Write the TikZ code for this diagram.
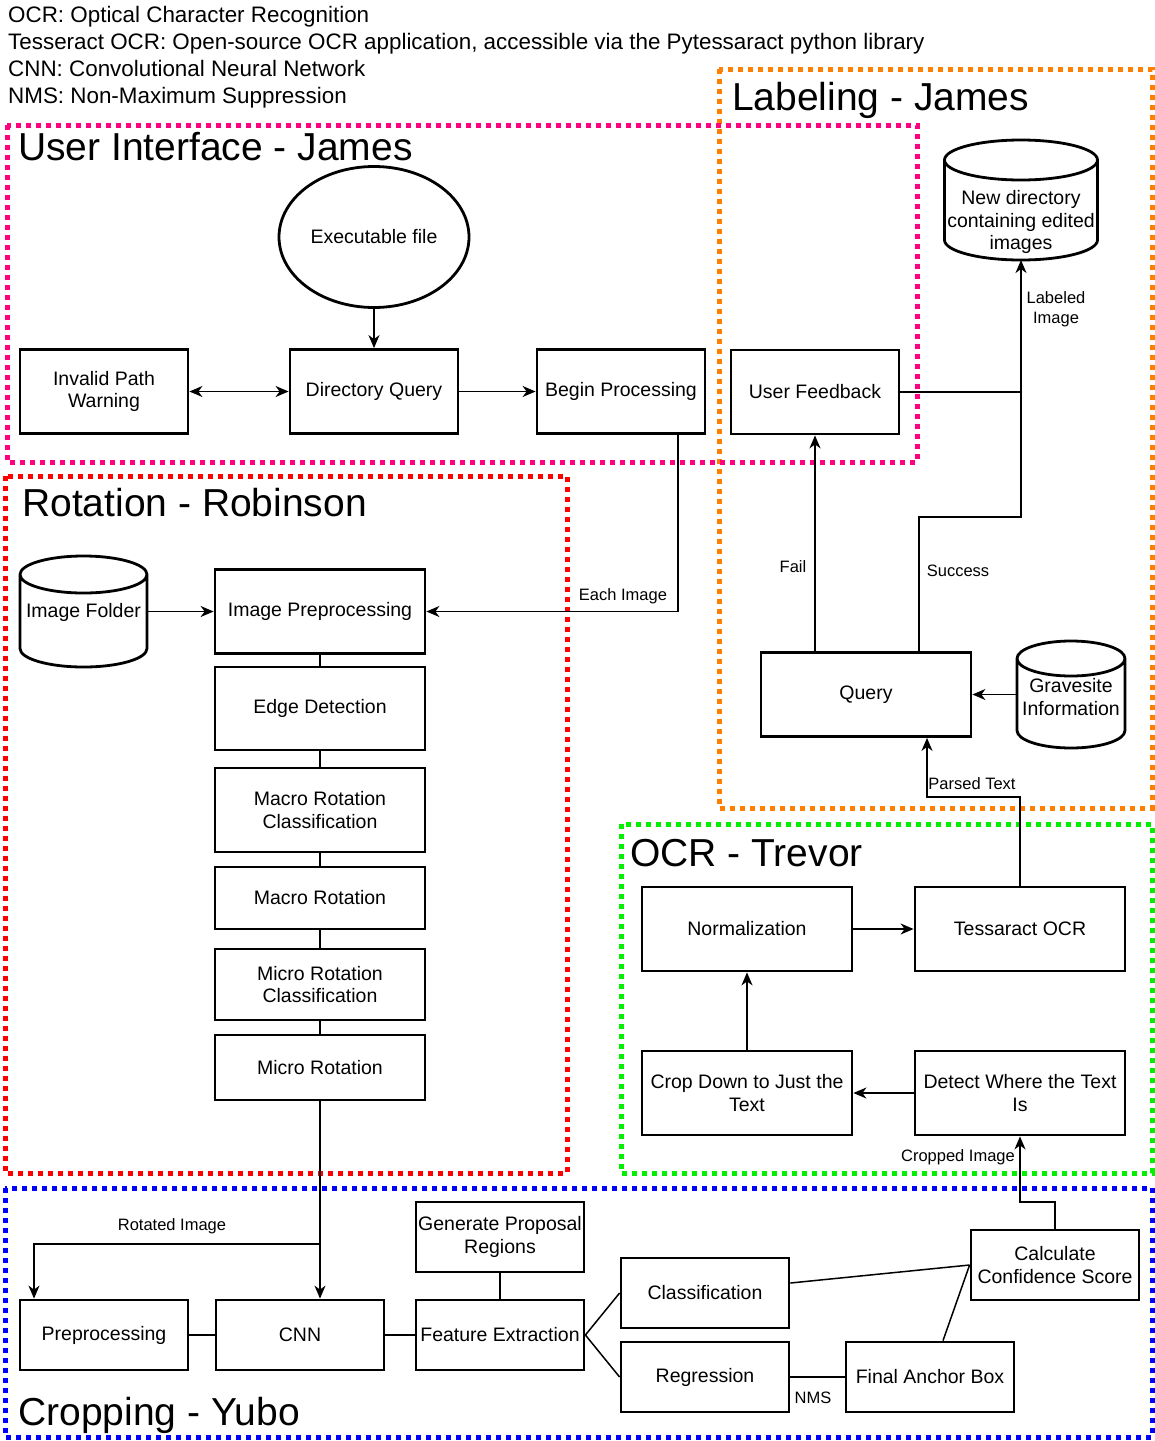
\documentclass[tikz,border=0pt]{standalone}
\usepackage{fontspec}
\setmainfont{Liberation Sans}
\usetikzlibrary{arrows.meta,calc,shapes.geometric}

\definecolor{uipink}{RGB}{255,0,128}
\definecolor{lborange}{RGB}{255,128,0}
\definecolor{rotred}{RGB}{255,0,0}
\definecolor{ocrgreen}{RGB}{0,240,0}
\definecolor{cropblue}{RGB}{0,0,255}

% cylinder outline around an empty named node: name, cx, cy (downwards), width, height, cap radius
\newcommand\cylshape[6]{%
  \node[minimum width=#4pt, minimum height=#5pt, inner sep=0pt, outer sep=0pt] (#1) at (#2,-#3) {};
  \draw[cylline] ($(#1.north west)+(0,-#6)$) -- ($(#1.south west)+(0,#6)$)
    arc[start angle=180,end angle=360,x radius=#4/2,y radius=#6]
    -- ($(#1.north east)+(0,-#6)$)
    arc[start angle=0,end angle=180,x radius=#4/2,y radius=#6]
    arc[start angle=180,end angle=360,x radius=#4/2,y radius=#6];
}

\begin{document}
\begin{tikzpicture}[x=1pt,y=1pt,
  nodefont/.style={font=\fontsize{19.5}{22.5}\selectfont},
  box/.style={draw, line width=2.8pt, minimum width=168pt, minimum height=84pt,
    align=center, inner sep=2pt, nodefont},
  widebox/.style={box, minimum width=210pt},
  cylline/.style={line width=2.8pt},
  cyltext/.style={align=center, inner sep=1pt, nodefont},
  conn/.style={line width=1.5pt},
  tip/.style={},
  arr/.style={conn, -{Stealth[length=13pt,width=11pt,inset=4pt]}},
  darr/.style={conn, {Stealth[length=13pt,width=11pt,inset=4pt]}-{Stealth[length=13pt,width=11pt,inset=4pt]}},
  elabel/.style={font=\fontsize{16.5}{19.5}\selectfont, inner sep=1pt, align=center},
  legend/.style={font=\fontsize{22.4}{26}\selectfont, anchor=base west, inner sep=0pt},
  title/.style={font=\fontsize{39}{45}\selectfont, anchor=base west, inner sep=0pt},
  frame/.style={line width=5pt, dash pattern=on 5pt off 5pt},
]
\fill[white] (0,0) rectangle (1155,-1441);
\useasboundingbox (0,0) rectangle (1155,-1441);

% abbreviations
\node[legend] (leg1) at (8,-22) {OCR: Optical Character Recognition};
\node[legend] (leg2) at (8,-49) {Tesseract OCR: Open-source OCR application, accessible via the Pytessaract python library};
\node[legend] (leg3) at (8,-76) {CNN: Convolutional Neural Network};
\node[legend] (leg4) at (8,-103) {NMS: Non-Maximum Suppression};

% team frames
\draw[frame, lborange] (719,-69) rectangle (1152,-808);
\draw[frame, uipink] (7,-125) rectangle (917,-462);
\draw[frame, rotred] (5,-476) rectangle (567,-1173);
\draw[frame, ocrgreen] (621,-824) rectangle (1152,-1173);
\draw[frame, cropblue] (5,-1188) rectangle (1152,-1437);

\node[title] (t-ui) at (18,-160) {User Interface - James};
\node[title] (t-lab) at (732,-110) {Labeling - James};
\node[title] (t-rot) at (22,-516) {Rotation - Robinson};
\node[title] (t-ocr) at (630,-866) {OCR - Trevor};
\node[title] (t-crop) at (18,-1425) {Cropping - Yubo};

% user interface
\node[draw, ellipse, line width=2.8pt, minimum width=190pt, minimum height=141pt, nodefont] (exe) at (374,-237) {Executable file};
\node[box] (invalid) at (104,-391.5) {Invalid Path\\Warning};
\node[box] (dirq) at (374,-391.5) {Directory Query};
\node[box] (begin) at (621,-391.5) {Begin Processing};
\node[box] (ufb) at (815,-392) {User Feedback};

% labeling
\cylshape{newdir}{1021}{200}{153}{120}{20}
\node[cyltext] (newdir-txt) at (1021,-222) {New directory\\containing edited\\images};
\node[widebox] (query) at (866,-694.5) {Query};
\cylshape{grave}{1071}{694.5}{108}{107}{17.5}
\node[cyltext] (grave-txt) at (1071,-697) {Gravesite\\Information};

% rotation
\cylshape{imgfolder}{83.5}{611.5}{127}{111}{18.5}
\node[cyltext] (imgfolder-txt) at (83.5,-612) {Image Folder};
\node[widebox] (imgpre) at (320,-611.5) {Image Preprocessing};
\node[widebox, minimum height=83pt] (edge) at (320,-708.5) {Edge Detection};
\node[widebox] (macrocls) at (320,-810) {Macro Rotation\\Classification};
\node[widebox, minimum height=62pt] (macro) at (320,-898) {Macro Rotation};
\node[widebox, minimum height=71pt] (microcls) at (320,-984.5) {Micro Rotation\\Classification};
\node[widebox, minimum height=65pt] (micro) at (320,-1067.5) {Micro Rotation};

% ocr
\node[widebox] (normal) at (747,-929) {Normalization};
\node[widebox] (tess) at (1020,-929) {Tessaract OCR};
\node[widebox] (crop) at (747,-1093) {Crop Down to Just the\\Text};
\node[widebox] (detect) at (1020,-1093) {Detect Where the Text\\Is};

% cropping
\node[box, minimum height=70pt] (gpr) at (500,-1237) {Generate Proposal\\Regions};
\node[box, minimum height=70pt] (prep) at (104,-1335) {Preprocessing};
\node[box, minimum height=70pt] (cnn) at (300,-1335) {CNN};
\node[box, minimum height=70pt] (feat) at (500,-1335) {Feature Extraction};
\node[box, minimum height=70pt] (cls) at (705,-1293) {Classification};
\node[box, minimum height=70pt] (reg) at (705,-1377) {Regression};
\node[box, minimum height=70pt] (fab) at (930,-1377) {Final Anchor Box};
\node[box, minimum height=70pt] (calc) at (1055,-1265) {Calculate\\Confidence Score};

% bend points of routed connectors
\coordinate (eachbend) at (678,-611.5);
\coordinate (succbend) at (1021,-517);
\coordinate (parsedbend) at (1020,-797);
\coordinate (cropbend) at (1055,-1202);
\coordinate (rotsplit) at (320,-1244);

% connectors: user interface
\draw[arr] (exe) -- (dirq);
\draw[darr] (invalid) -- (dirq);
\draw[arr] (dirq) -- (begin);
\draw[arr] (begin.south -| eachbend) -- (eachbend) -- (imgpre.east);
\node[elabel] (l-each) at (623,-596) {Each Image};

% connectors: rotation
\draw[arr] (imgfolder.east) -- (imgpre.west);
\draw[conn] (imgpre) -- (edge);
\draw[conn] (edge) -- (macrocls);
\draw[conn] (macrocls) -- (macro);
\draw[conn] (macro) -- (microcls);
\draw[conn] (microcls) -- (micro);
\draw[arr] (micro.south) -- (micro.south |- cnn.north);
\draw[arr] (rotsplit) -| ([xshift=-70pt]prep.north);
\node[elabel] (l-rot) at (172,-1226) {Rotated Image};

% connectors: cropping
\draw[conn] (prep) -- (cnn);
\draw[conn] (cnn) -- (feat);
\draw[conn] (gpr) -- (feat);
\draw[conn] (feat.east) -- (cls.west);
\draw[conn] (feat.east) -- (reg.west);
\draw[conn] ([yshift=10pt]cls.east) -- (calc.west);
\draw[conn] ([xshift=13pt]fab.north) -- (calc.west);
\draw[conn] (reg) -- (fab);
\node[elabel] (l-nms) at (813,-1398) {NMS};
\draw[arr] (calc.north) -- (cropbend) -| (detect.south);
\node[elabel] (l-cropped) at (958,-1157) {Cropped Image};

% connectors: ocr
\draw[arr] (detect) -- (crop);
\draw[arr] (crop) -- (normal);
\draw[arr] (normal) -- (tess);
\draw[arr] (tess.north) -- (parsedbend) -| ([xshift=61pt]query.south);
\node[elabel] (l-parsed) at (972,-784) {Parsed Text};

% connectors: labeling
\draw[arr] (grave.west) -- (query.east);
\draw[arr] ([xshift=-51pt]query.north) -- (ufb.south);
\node[elabel] (l-fail) at (793,-567) {Fail};
\draw[arr] ([xshift=53pt]query.north) |- (succbend) -- (newdir.south);
\node[elabel] (l-succ) at (958,-571) {Success};
\draw[conn] (ufb.east) -- (ufb.east -| succbend);
\node[elabel] (l-labeled) at (1056,-309) {Labeled\\Image};
\end{tikzpicture}
\end{document}
